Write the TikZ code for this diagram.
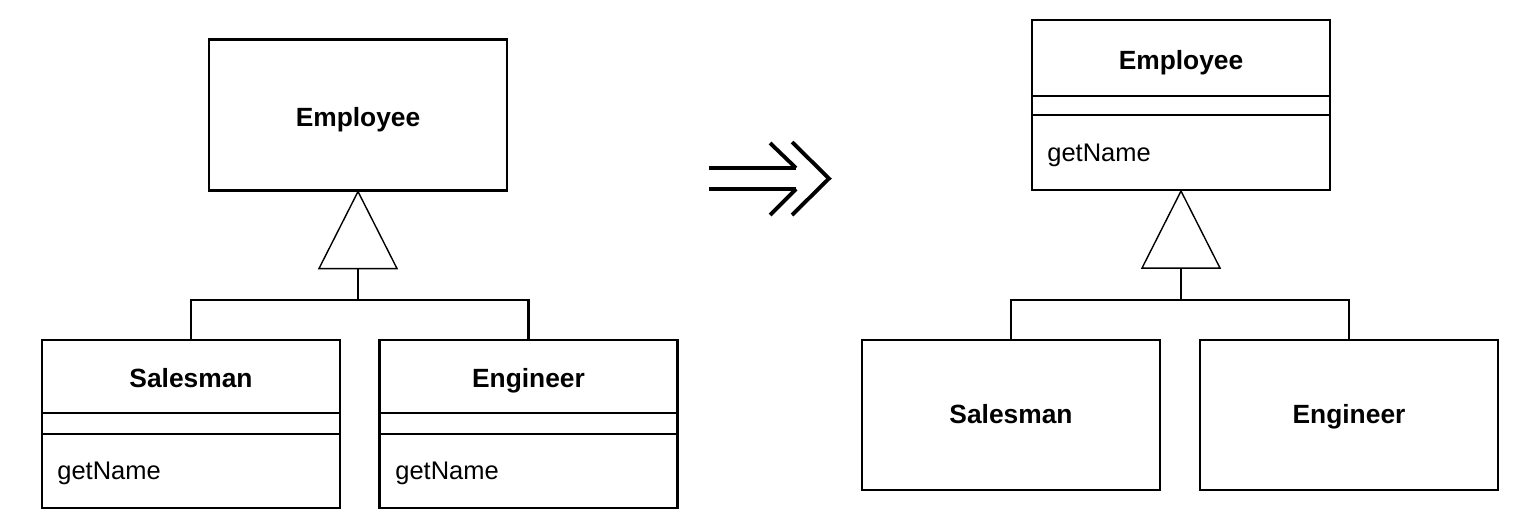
\documentclass[tikz,border=0pt]{standalone}
\usepackage{fontspec}
\setmainfont{Liberation Sans}
\usetikzlibrary{positioning}
\begin{document}
\begin{tikzpicture}[x=0.02cm,y=-0.02cm,
  classbox/.style={draw, line width=1.2pt, minimum width=5.96cm, inner sep=0pt},
  classname/.style={font=\bfseries\fontsize{15}{18}\selectfont, anchor=base, inner sep=0pt},
  method/.style={font=\fontsize{14.5}{17}\selectfont, anchor=base west, inner sep=0pt},
  divider/.style={line width=1.2pt},
  gen/.style={line width=0.8pt}]
\useasboundingbox (0,0) rectangle (1534,522);

% before: getName in both subclasses
\node[classbox, minimum height=3.02cm] (emp) at (358,115) {};
\node[classname] (emp-t) at (358,126) {Employee};

\node[classbox, minimum height=3.36cm] (sal) at (191,424) {};
\node[classname] (sal-t) at (191,387) {Salesman};
\draw [divider] (sal.west |- 0,413) -- (sal.east |- 0,413);
\draw [divider] (sal.west |- 0,434) -- (sal.east |- 0,434);
\node[method] (sal-m) at (57,479) {getName};

\node[classbox, minimum height=3.36cm] (eng) at (528.5,424) {};
\node[classname] (eng-t) at (528.5,387) {Engineer};
\draw [divider] (eng.west |- 0,413) -- (eng.east |- 0,413);
\draw [divider] (eng.west |- 0,434) -- (eng.east |- 0,434);
\node[method] (eng-m) at (395,479) {getName};

\draw [gen] (emp.south) -- ++(-39,77) -- ++(78,0) -- cycle;
\coordinate (emp-b) at ([yshift=-77*0.02cm]emp.south);
\coordinate (emp-j) at (358,300);
\draw [gen] (emp-b) -- (emp-j);
\draw [divider] (sal.north) -- (sal.north |- emp-j) -- (eng.north |- emp-j) -- (eng.north);

% refactoring arrow
\draw [line width=2.2pt] (709,168) -- (796,168);
\draw [line width=2.2pt] (709,189) -- (796,189);
\draw [line width=2.2pt] (770,143) -- (796,168);
\draw [line width=2.2pt] (770,215) -- (796,189);
\draw [line width=2.2pt] (792,142) -- (829,178.5) -- (792,215);

% after: getName pulled up
\node[classbox, minimum height=3.4cm] (emp2) at (1181,105) {};
\node[classname] (emp2-t) at (1181,69) {Employee};
\draw [divider] (emp2.west |- 0,96) -- (emp2.east |- 0,96);
\draw [divider] (emp2.west |- 0,115) -- (emp2.east |- 0,115);
\node[method] (emp2-m) at (1047,161) {getName};

\node[classbox, minimum height=3cm] (sal2) at (1011,415) {};
\node[classname] (sal2-t) at (1011,423) {Salesman};

\node[classbox, minimum height=3cm] (eng2) at (1349,415) {};
\node[classname] (eng2-t) at (1349,423) {Engineer};

\draw [gen] (emp2.south) -- ++(-39,77) -- ++(78,0) -- cycle;
\coordinate (emp2-b) at ([yshift=-77*0.02cm]emp2.south);
\coordinate (emp2-j) at (1181,300);
\draw [gen] (emp2-b) -- (emp2-j);
\draw [divider] (sal2.north) -- (sal2.north |- emp2-j) -- (eng2.north |- emp2-j) -- (eng2.north);

\end{tikzpicture}
\end{document}
